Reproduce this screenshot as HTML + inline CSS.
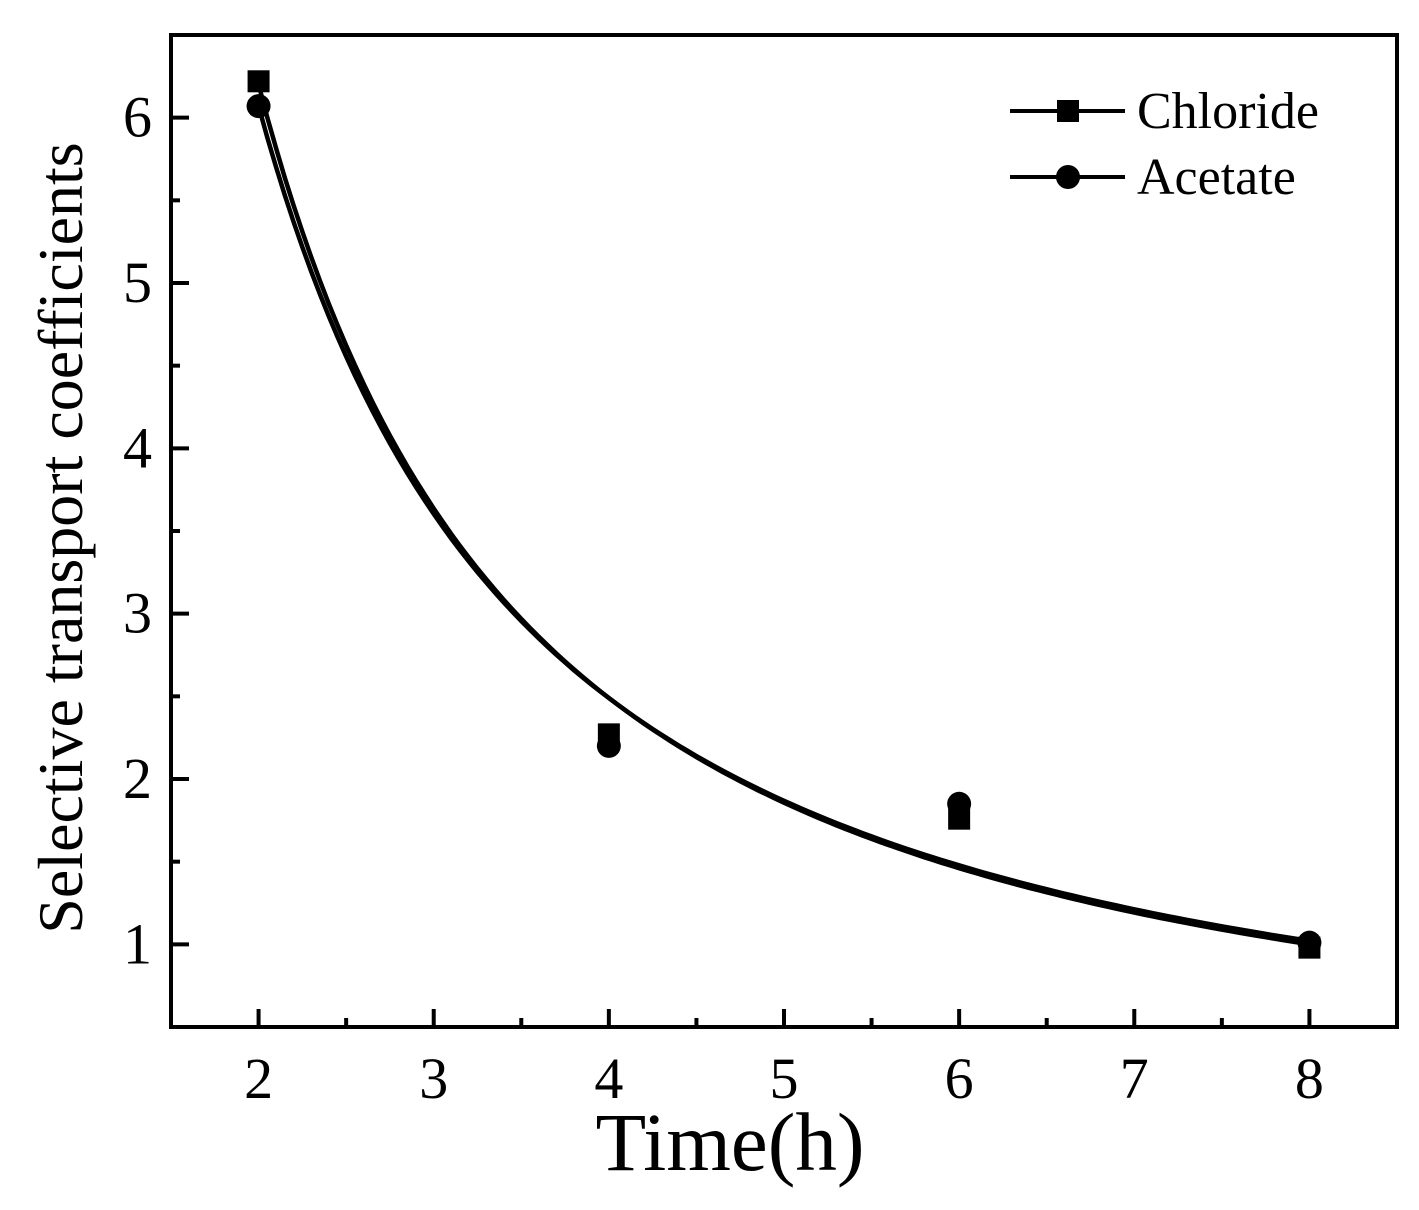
<!DOCTYPE html>
<html><head><meta charset="utf-8"><style>
body{margin:0;background:#fff}
svg text{font-family:"Liberation Serif",serif;fill:#000}
</style></head><body>
<svg id="chart" width="1419" height="1205" xmlns="http://www.w3.org/2000/svg">
</svg>
<script>
const xTicks=[2,3,4,5,6,7,8];
const yTicks=[1,2,3,4,5,6];
const times=[2,4,6,8];
const chloride=[6.22,2.27,1.76,0.98];
const acetate=[6.07,2.2,1.85,1.01];
const chlorideFit=[6.2,-1.316];
const acetateFit=[6.07,-1.286];
const NS="http://www.w3.org/2000/svg";
const svg=document.getElementById('chart');
const L=171,R=1397,T=35,B=1027;
const sx=v=>L+(v-1.5)/(8.5-1.5)*(R-L);
const sy=v=>B-(v-0.5)/(6.5-0.5)*(B-T);
function mk(tag,attrs){const e=document.createElementNS(NS,tag);for(const k in attrs)e.setAttribute(k,attrs[k]);svg.appendChild(e);return e;}
let box=mk('rect',{x:L,y:T,width:R-L,height:B-T,fill:'none',stroke:'#000','stroke-width':4});


for(let v=2;v<=8.0001;v+=0.5){
  const major=Number.isInteger(v);
  const t=mk('line',{x1:sx(v),x2:sx(v),y1:B,y2:B-(major?18:9),stroke:'#000','stroke-width':4});
  
  
}
xTicks.forEach(v=>{
  const t=mk('text',{x:sx(v),y:1098,'font-size':58,'text-anchor':'middle'});t.textContent=v;
  
  
});
for(let v=1;v<=6.0001;v+=0.5){
  const major=Number.isInteger(v);
  const t=mk('line',{x1:L,x2:L+(major?18:9),y1:sy(v),y2:sy(v),stroke:'#000','stroke-width':4});
  
  
}
yTicks.forEach(v=>{
  const t=mk('text',{x:152,y:sy(v)+19,'font-size':58,'text-anchor':'end'});t.textContent=v;
  
  
});
let xt=mk('text',{x:730,y:1170,'font-size':83,'text-anchor':'middle'});xt.textContent='Time(h)';


let yt=mk('text',{x:0,y:0,'font-size':64,'text-anchor':'middle',transform:'translate(82,538) rotate(-90)'});yt.textContent='Selective transport coefficients';


function fit(p,name){
  let d='';
  for(let i=0;i<=120;i++){const x=2+6*i/120;const y=p[0]*Math.pow(x/2,p[1]);d+=(i?'L':'M')+sx(x).toFixed(1)+','+sy(y).toFixed(1);}
  const e=mk('path',{d:d,fill:'none',stroke:'#000','stroke-width':4.5});
  
  
}
fit(chlorideFit,'chloride-fit-line');
fit(acetateFit,'acetate-fit-line');
times.forEach((t,i)=>{
  const s=mk('rect',{x:sx(t)-11,y:sy(chloride[i])-11,width:22,height:22,fill:'#000'});
  
  
  const c=mk('circle',{cx:sx(t),cy:sy(acetate[i]),r:12,fill:'#000'});
  
  
});
const lg=[['Chloride',111,'sq'],['Acetate',177,'ci']];
lg.forEach(([n,y,m])=>{
  const l=mk('line',{x1:1010,x2:1125,y1:y,y2:y,stroke:'#000','stroke-width':4});
  
  
  const mm=m==='sq'?mk('rect',{x:1057,y:y-11,width:22,height:22,fill:'#000'}):mk('circle',{cx:1068,cy:y,r:12,fill:'#000'});
  
  
  const t=mk('text',{x:1137,y:y+17,'font-size':52});t.textContent=n;
  
  
});
</script>
</body></html>
